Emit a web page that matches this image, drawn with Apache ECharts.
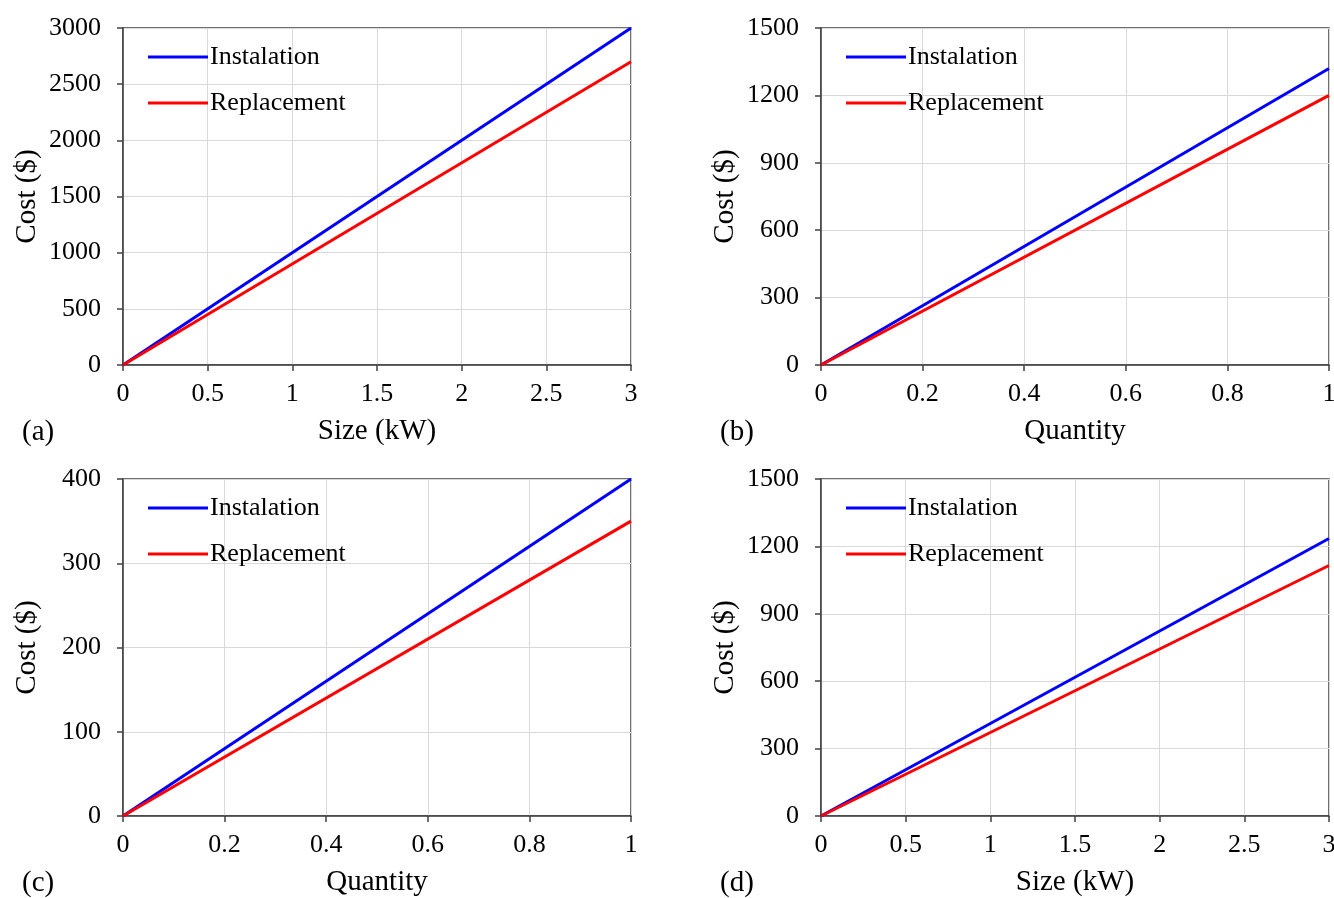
<!DOCTYPE html>
<html>
<head>
<meta charset="utf-8">
<script src="https://cdn.jsdelivr.net/npm/echarts@6/dist/echarts.min.js"></script>
<style>
html,body{margin:0;padding:0;background:#fff;}
#chart{width:1334px;height:898px;}
</style>
</head>
<body>
<div id="chart"></div>
<script>
// Cost curves: each series runs from the origin to the value at the axis maximum
const seriesNames = ['Instalation', 'Replacement'];
const panelLetters = ['(a)', '(b)', '(c)', '(d)'];
const xTitles = ['Size (kW)', 'Quantity', 'Quantity', 'Size (kW)'];
const yTitle = 'Cost ($)';
const xStart = [0, 0, 0, 0];
const xEnd = [3, 1, 1, 3];
const instalationCost = [[0, 3000], [0, 1320], [0, 400], [0, 1235]];
const replacementCost = [[0, 2700], [0, 1200], [0, 350], [0, 1115]];
const yMax = [3000, 1500, 400, 1500];
const yStep = [500, 300, 100, 300];
const xStep = [0.5, 0.2, 0.2, 0.5];

const font = 'Liberation Serif';
const axisColor = '#404040';
const textColor = '#000';
const colors = ['#0000ff', '#ff0000'];

// Plot rectangles [left, top, width, height]
const rects = [
  [123, 28, 508, 337],
  [821, 28, 508, 337],
  [123, 479, 508, 337],
  [821, 479, 508, 337]
];

const plain = v => String(v);
const grid = [], xAxis = [], yAxis = [], series = [], legend = [], graphic = [];

rects.forEach((r, i) => {
  grid.push({
    left: r[0], top: r[1], width: r[2], height: r[3],
    outerBoundsMode: 'none', containLabel: false,
    show: true, borderColor: axisColor, borderWidth: 1.5, backgroundColor: 'transparent'
  });
  xAxis.push({
    type: 'value', gridIndex: i, min: xStart[i], max: xEnd[i], interval: xStep[i],
    name: xTitles[i], nameLocation: 'middle', nameGap: 52,
    nameTextStyle: { fontFamily: font, fontSize: 29, color: textColor },
    axisLine: { show: true, onZero: false, lineStyle: { color: axisColor, width: 1.5 } },
    axisTick: { show: true, inside: false, length: 6, lineStyle: { color: axisColor, width: 1.5 } },
    axisLabel: { fontFamily: font, fontSize: 26, color: textColor, margin: 16, formatter: plain },
    splitLine: { show: true, lineStyle: { color: '#d9d9d9', width: 1 } }
  });
  yAxis.push({
    type: 'value', gridIndex: i, min: 0, max: yMax[i], interval: yStep[i],
    name: yTitle, nameLocation: 'middle', nameGap: 81,
    nameTextStyle: { fontFamily: font, fontSize: 29, color: textColor },
    axisLine: { show: true, lineStyle: { color: axisColor, width: 1.5 } },
    axisTick: { show: true, inside: false, length: 6, lineStyle: { color: axisColor, width: 1.5 } },
    axisLabel: { fontFamily: font, fontSize: 26, color: textColor, margin: 22, formatter: plain },
    splitLine: { show: true, lineStyle: { color: '#d9d9d9', width: 1 } }
  });
  const ends = [instalationCost[i], replacementCost[i]];
  seriesNames.forEach((name, k) => {
    series.push({
      name: name, type: 'line', xAxisIndex: i, yAxisIndex: i,
      symbol: 'none', silent: true, animation: false,
      lineStyle: { color: colors[k], width: 3 },
      itemStyle: { color: colors[k] },
      data: [[xStart[i], ends[k][0]], [xEnd[i], ends[k][1]]]
    });
  });
  legend.push({
    orient: 'vertical', left: r[0] + 20, top: r[1] + 11,
    itemWidth: 60, itemHeight: 3, itemGap: 20, icon: 'rect',
    selectedMode: false,
    textStyle: { fontFamily: font, fontSize: 26, color: textColor, padding: [0, 0, 0, -3] },
    data: seriesNames
  });
  graphic.push({
    type: 'text', left: r[0] - 101, top: r[1] + r[3] + 53,
    style: { text: panelLetters[i], font: '29px "' + font + '"', fill: textColor }
  });
});

const chart = echarts.init(document.getElementById('chart'), null, { renderer: 'canvas' });
chart.setOption({
  animation: false,
  backgroundColor: '#fff',
  grid, xAxis, yAxis, series, legend, graphic
});
</script>
</body>
</html>
